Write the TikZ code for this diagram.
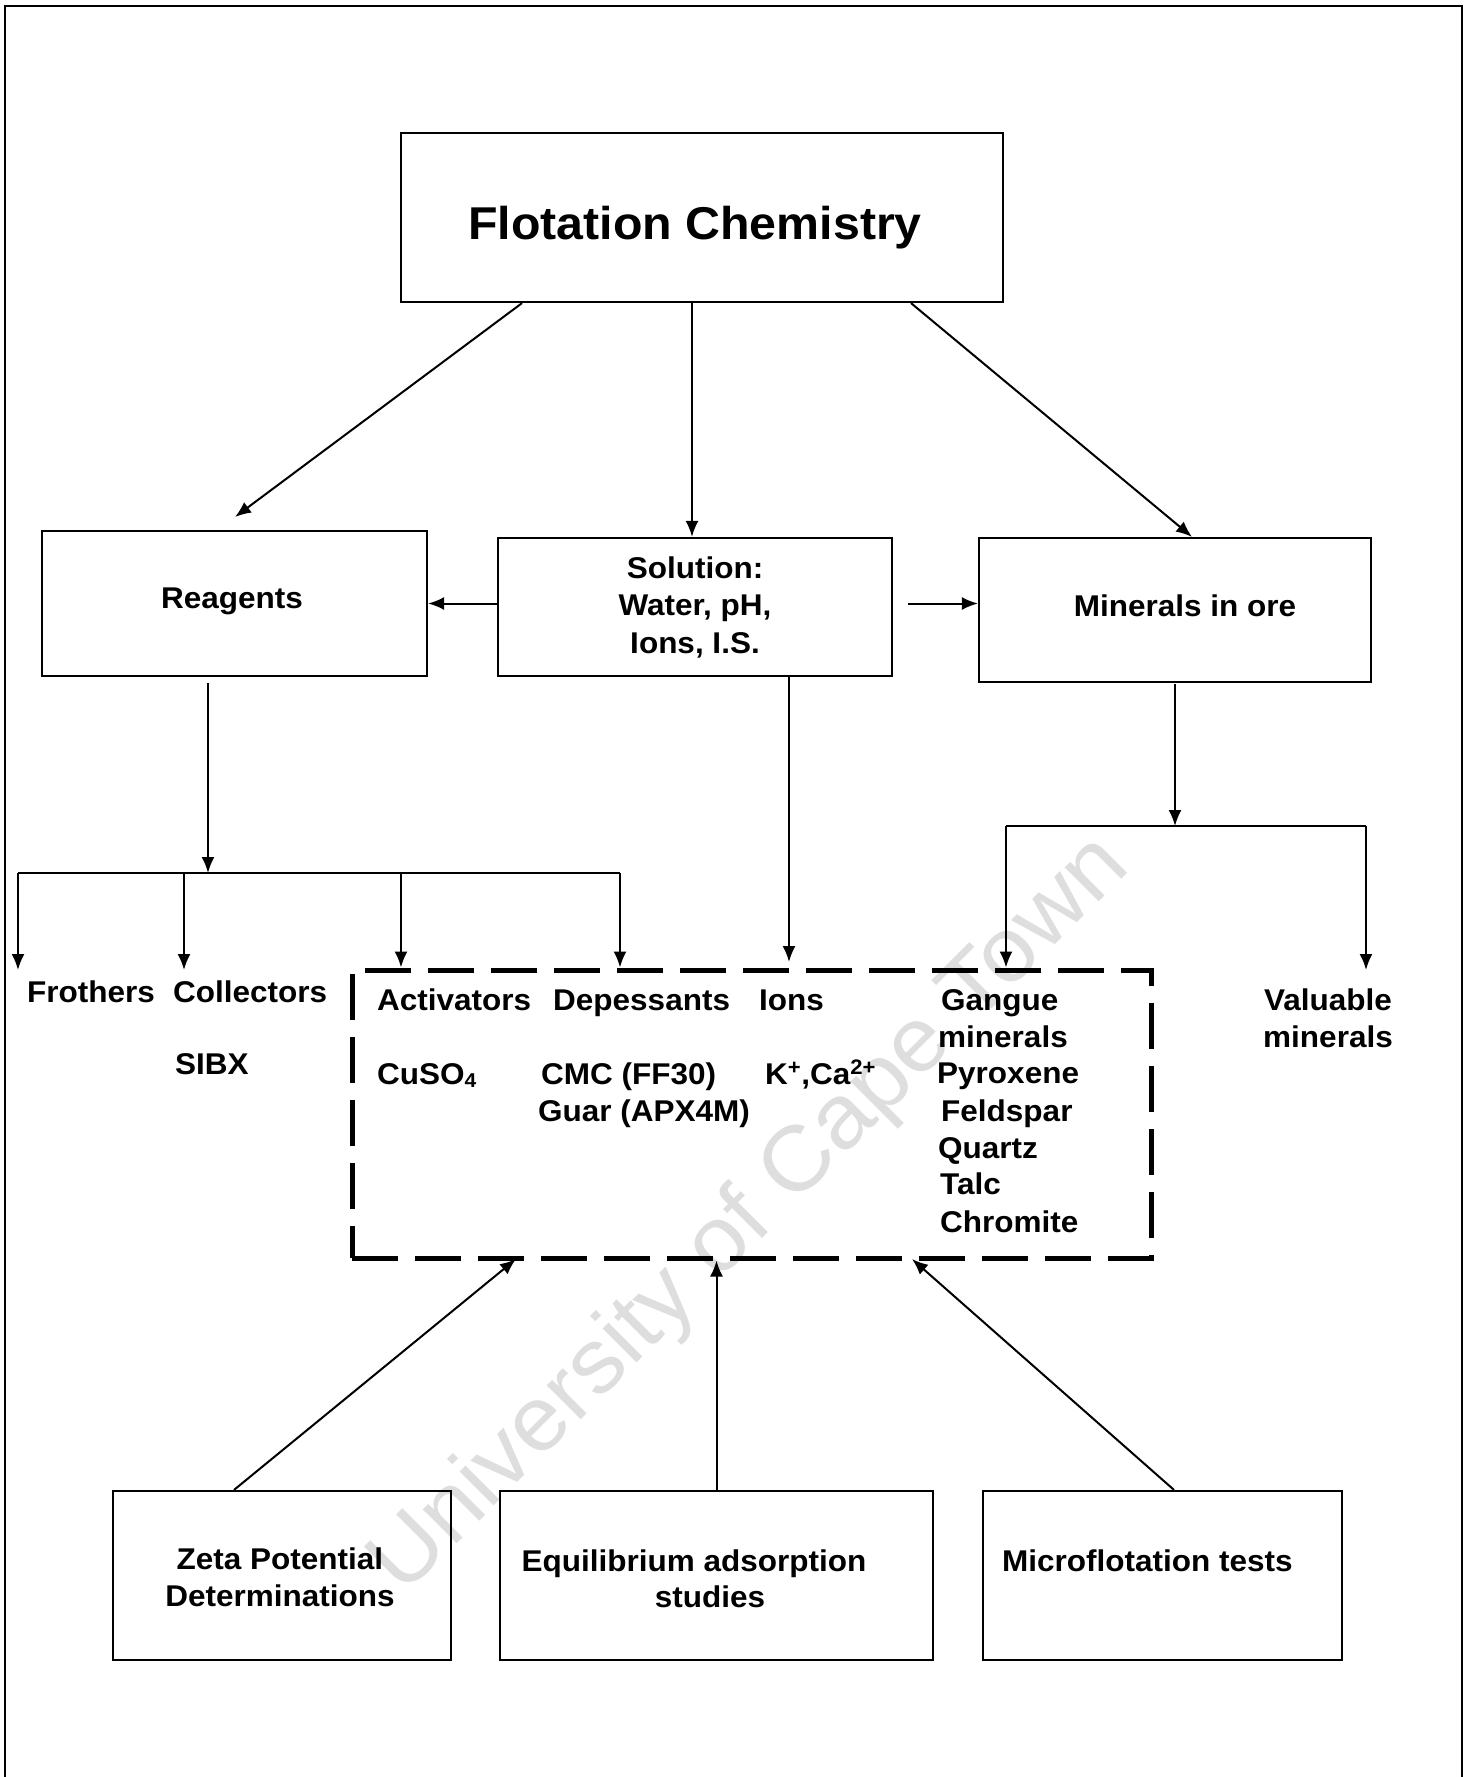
\documentclass[tikz,border=0pt]{standalone}
\usepackage{fontspec}
\setmainfont[FakeStretch=1.05]{Liberation Sans}
\usetikzlibrary{arrows.meta}
\begin{document}
\begin{tikzpicture}[x=1pt,y=-1pt,
  box/.style={draw, line width=2.2pt, inner sep=0pt},
  txt/.style={font=\bfseries\fontsize{30}{37}\selectfont, inner sep=0pt},
  arr/.style={line width=2pt, -{Latex[length=16pt,width=13pt]}},
  ln/.style={line width=2pt},
]
\useasboundingbox (0,0) rectangle (1468,1777);
% watermark
\node[rotate=45, text=black!13, inner sep=0pt, font=\fontsize{91}{91}\selectfont] (wm) at (751,1216) {University of Cape Town};
% outer frame
\draw[line width=2.5pt] (5,1777) -- (5,6) -- (1462,6) -- (1462,1777);
% boxes
\node[box, minimum width=602pt, minimum height=169pt] (title) at (702,217.5) {};
\node[box, minimum width=385pt, minimum height=145pt] (reag) at (234.5,603.5) {};
\node[box, minimum width=394pt, minimum height=138pt] (sol) at (695,607) {};
\node[box, minimum width=392pt, minimum height=144pt] (min) at (1175,610) {};
\node[draw, line width=5pt, dash pattern=on 46pt off 17pt, inner sep=0pt, minimum width=799pt, minimum height=288pt] (dbox) at (751.5,1114) {};
\node[box, minimum width=338pt, minimum height=169pt] (zeta) at (282,1575.5) {};
\node[box, minimum width=433pt, minimum height=169pt] (equi) at (716.5,1575.5) {};
\node[box, minimum width=359pt, minimum height=169pt] (micro) at (1162.5,1575.5) {};
% texts
\node[txt, font=\bfseries\fontsize{46}{50}\selectfont, anchor=base] (tTitle) at (695,239) {Flotation Chemistry};
\node[txt, anchor=base] (tReag) at (232,608) {Reagents};
\node[txt, anchor=base] (tSolA) at (695,578) {Solution:};
\node[txt, anchor=base] (tSolB) at (695,615) {Water, pH,};
\node[txt, anchor=base] (tSolC) at (695,653) {Ions, I.S.};
\node[txt, anchor=base] (tMin) at (1185,616) {Minerals in ore};
\node[txt, anchor=base west] (tFro) at (27,1002) {Frothers};
\node[txt, anchor=base west] (tCol) at (173,1002) {Collectors};
\node[txt, anchor=base west] (tSibx) at (175,1074) {SIBX};
\node[txt, anchor=base west] (tAct) at (377,1010) {Activators};
\node[txt, anchor=base west] (tDep) at (553,1010) {Depessants};
\node[txt, anchor=base west] (tIons) at (759,1010) {Ions};
\node[txt, anchor=base west] (tCu) at (377,1084) {CuSO\raisebox{-3pt}{\fontsize{20}{20}\selectfont 4}};
\node[txt, anchor=base west] (tCMC) at (541,1084) {CMC (FF30)};
\node[txt, anchor=base west] (tGuar) at (538,1121) {Guar (APX4M)};
\node[txt, anchor=base west] (tK) at (765,1084) {K\textsuperscript{+},Ca\textsuperscript{2+}};
\node[txt, anchor=base west] (gA) at (941,1010) {Gangue};
\node[txt, anchor=base west] (gB) at (938,1047) {minerals};
\node[txt, anchor=base west] (gC) at (937,1083) {Pyroxene};
\node[txt, anchor=base west] (gD) at (941,1121) {Feldspar};
\node[txt, anchor=base west] (gE) at (938,1158) {Quartz};
\node[txt, anchor=base west] (gF) at (940,1194) {Talc};
\node[txt, anchor=base west] (gG) at (940,1232) {Chromite};
\node[txt, anchor=base] (tValA) at (1328,1010) {Valuable};
\node[txt, anchor=base] (tValB) at (1328,1047) {minerals};
\node[txt, anchor=base] (tZetaA) at (280,1569) {Zeta Potential};
\node[txt, anchor=base] (tZetaB) at (280,1606) {Determinations};
\node[txt, anchor=base] (tEquA) at (694,1571) {Equilibrium adsorption};
\node[txt, anchor=base] (tEquB) at (710,1607) {studies};
\node[txt, anchor=base west] (tMicro) at (1002,1571) {Microflotation tests};
% connectors from title
\coordinate (rt) at (235,517);
\draw[arr] ([xshift=-180pt]title.south) -- (rt);
\draw[arr] ([xshift=-10pt]title.south) -- ([xshift=-3pt]sol.north);
\draw[arr] ([xshift=209pt]title.south) -- ([xshift=17pt]min.north);
\draw[arr] (sol.west |- reag.east) -- (reag.east);
\draw[arr] ([xshift=15pt]sol.east |- reag.east) -- (min.west |- reag.east);
% reagents branch
\coordinate (rb) at (208,873);
\coordinate (bL) at (18,873);
\coordinate (bC) at (184,873);
\coordinate (bA) at (401,873);
\coordinate (bR) at (620,873);
\coordinate (fT) at (18,970);
\coordinate (cT) at (184,970);
\draw[arr] ([xshift=-26.5pt,yshift=-6pt]reag.south) -- (rb);
\draw[ln] (bL) -- (bR);
\draw[arr] (bL) -- (fT);
\draw[arr] (bC) -- (cT);
\draw[arr] (bA) -- (bA |- dbox.north);
\draw[arr] (bR) -- (bR |- dbox.north);
% ions
\coordinate (iT) at (789,962);
\draw[arr] (sol.south -| iT) -- (iT);
% minerals branch
\coordinate (mb) at (1175,826);
\coordinate (mL) at (1006,826);
\coordinate (mR) at (1366,826);
\coordinate (vT) at (1366,970);
\draw[arr] ([yshift=-1pt]min.south) -- (mb);
\draw[ln] (mL) -- (mR);
\draw[arr] (mL) -- (mL |- dbox.north);
\draw[arr] (mR) -- (vT);
% bottom
\coordinate (zt) at (516,1259);
\coordinate (mt) at (912,1259);
\draw[arr] ([xshift=-48pt]zeta.north) -- (zt);
\draw[arr] (equi.north) -- (equi.north |- dbox.south);
\draw[arr] ([xshift=11.5pt]micro.north) -- (mt);
\end{tikzpicture}
\end{document}
